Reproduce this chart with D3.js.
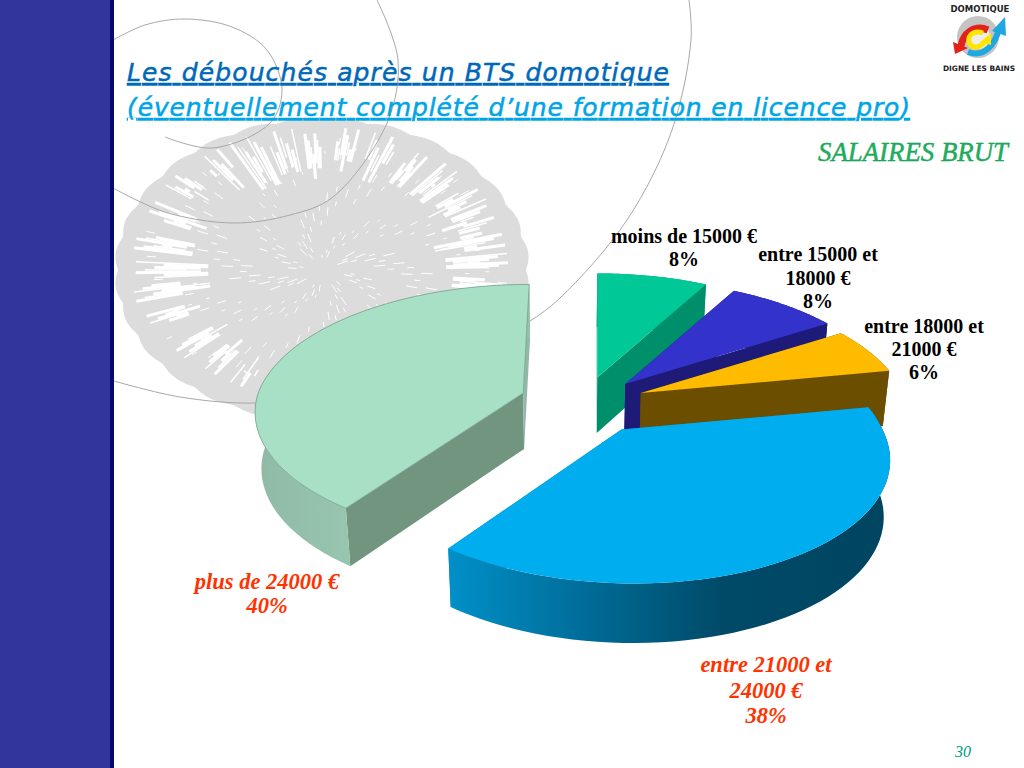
<!DOCTYPE html>
<html>
<head>
<meta charset="utf-8">
<style>
  html, body { margin: 0; padding: 0; background: #fff; overflow: hidden; }
  svg { display: block; }
</style>
<script src="https://cdn.jsdelivr.net/npm/d3@7"></script>
</head>
<body>
<div class="chart"></div>
<script>
// Chart data
var categories = ["moins de 15000 €", "entre 15000 et 18000 €", "entre 18000 et 21000 €", "entre 21000 et 24000 €", "plus de 24000 €"];
var shares = [8, 8, 6, 38, 40];
var shareLabels = ["8%", "8%", "6%", "38%", "40%"];
var labelLines = [
  ["moins de 15000 €"],
  ["entre 15000 et", "18000 €"],
  ["entre 18000 et", "21000 €"],
  ["entre 21000 et", "24000 €"],
  ["plus de 24000 €"]
];

// Layout and styles
var svgWidth = 1024;
var svgHeight = 768;

var explode = [58, 57, 58, 64, 69];
var nudgeX = [-4, 0, 0, -3, 0];
var radiusScale = [1, 1, 0.99, 0.985, 1];
var perspective = [0.2, 0.2, 0.2, 0.2, 0.15];
var topColors = ["#00c896", "#3333cc", "#ffbb00", "#00adef", "#a8e0c6"];
var faceColors = ["#008f6b", "#1e1a78", "#6b4e00", "#0088bf", "#72957f"];
var wallStops = [
  [[0, "#008f6b"], [1, "#008f6b"]],
  [[0, "#1e1a78"], [1, "#1e1a78"]],
  [[0, "#6b4e00"], [1, "#6b4e00"]],
  [[0, "#0090c8"], [0.21, "#0078a8"], [0.43, "#005f85"], [0.62, "#004a68"], [1, "#004560"]],
  [[0, "#8fbba6"], [0.6, "#9fcdb7"], [1, "#96c2ad"]]
];
var labelX = [684, 818, 924, 766, 267];
var labelY = [243, 261, 333, 672, 589];
var labelDy = [23, 23.5, 23, 25.5, 24];
var labelColors = ["#000", "#000", "#000", "#ff3300", "#ff3300"];

// Perspective of the 3D pie
var radius = 265;
var vanishX = 570;
var baseY = 403;
var pieOffsetX = 18;
var squash = 125 / 265;
var wallHeight = 56;

var svg = d3.select(".chart")
  .append("svg")
  .attr("width", svgWidth)
  .attr("height", svgHeight);

var defs = svg.append("defs");

var line = d3.line();

function project(u, v) {
  var s = 1 / (1 + 0.2 / 265 * v);
  return { x: vanishX + u * s, y: baseY - squash * v * s, s: s };
}

// bottom of the wall below a projected point
function drop(p) {
  return [vanishX + (p.x - vanishX) * 0.98, p.y + wallHeight * (1 + 0.25 * (p.s - 1))];
}

// ---------- background decoration ----------
var deco = svg.append("g");

var ammoX = 322, ammoY = 270, ammoRx = 207, ammoRy = 152;

function ammoPoint(angle, r) {
  return [ammoX + Math.sin(angle) * ammoRx * r, ammoY - Math.cos(angle) * ammoRy * r];
}

var outline = d3.range(0, 360, 1).map(function(a) {
  var t = a * Math.PI / 180;
  return ammoPoint(t, 0.985 + 0.018 * Math.abs(Math.sin(t * 14)));
});
deco.append("path")
  .attr("d", d3.line().curve(d3.curveLinearClosed)(outline))
  .attr("fill", "#dcdcdc");

// white streaks of the shell: angle, inner, outer, half width
var streaks = [
  [-128, 0.58, 0.88, 2.5], [-112, 0.6, 0.9, 2], [-100, 0.55, 0.92, 2.5], [-90, 0.55, 0.9, 3],
  [-78, 0.6, 0.92, 2.5], [-64, 0.62, 0.92, 2.5], [-50, 0.68, 0.94, 3], [-36, 0.66, 0.94, 3],
  [-24, 0.6, 0.95, 3.5], [-13, 0.62, 0.94, 3.5], [-3, 0.6, 0.9, 2], [8, 0.62, 0.94, 2.5],
  [20, 0.62, 0.94, 3.5], [32, 0.66, 0.9, 2], [44, 0.62, 0.92, 3], [56, 0.62, 0.92, 3],
  [66, 0.6, 0.9, 3.5], [76, 0.56, 0.9, 3], [86, 0.6, 0.9, 2.5], [97, 0.6, 0.88, 2],
  [-140, 0.6, 0.86, 2.5], [-152, 0.62, 0.86, 2.5], [-164, 0.65, 0.86, 2], [110, 0.62, 0.86, 2]
];
streaks.forEach(function(d, i) {
  d3.range(-3, 4).forEach(function(j) {
    var a = (d[0] + j * d[3] / 2.6) * Math.PI / 180;
    var r0 = d[1] + ((j * j * 3 + i) % 5) * 0.035;
    var r1 = d[2] - ((j + 3 + i * 2) % 4) * 0.045;
    var p0 = ammoPoint(a, r0), p1 = ammoPoint(a, r1);
    deco.append("line")
      .attr("x1", p0[0]).attr("y1", p0[1]).attr("x2", p1[0]).attr("y2", p1[1])
      .attr("stroke", "#fff")
      .attr("stroke-width", (j + i) % 3 === 0 ? 1.5 : 3);
  });
});

// fine specks near the middle
d3.range(0, 260).forEach(function(i) {
  var a = i * 2.39996;
  var r = 0.08 + 0.78 * ((i * 7) % 260) / 260;
  var p0 = ammoPoint(a, r), p1 = ammoPoint(a, r + 0.02 + (i % 4) * 0.012);
  deco.append("line")
    .attr("x1", p0[0]).attr("y1", p0[1]).attr("x2", p1[0]).attr("y2", p1[1])
    .attr("stroke", "#fff").attr("stroke-width", 1);
});

// thin spiral lines
var spiralLines = [
  [[114, 381], [180, 397], [257, 403], [340, 392], [440, 372], [527, 323], [560, 298], [627, 220], [672, 130], [691, 40], [689, 0]],
  [[113, 188], [165, 212], [233, 223], [290, 215], [333, 197], [387, 123], [398, 60], [377, 0]],
  [[113, 40], [145, 25], [185, 19], [232, 27], [267, 50], [282, 90], [270, 123], [213, 148], [165, 137]]
];
spiralLines.forEach(function(pts) {
  deco.append("path")
    .attr("d", d3.line().curve(d3.curveCatmullRom)(pts))
    .attr("fill", "none")
    .attr("stroke", "#a8a8a8")
    .attr("stroke-width", 1);
});

// left band
svg.append("rect").attr("x", 0).attr("y", 0).attr("width", 110).attr("height", svgHeight).attr("fill", "#31359c");
svg.append("rect").attr("x", 110).attr("y", 0).attr("width", 4).attr("height", svgHeight).attr("fill", "#050a6e");

// ---------- logo ----------
var logo = svg.append("g");
logo.append("text").attr("x", 980).attr("y", 12).attr("text-anchor", "middle")
  .attr("font-family", "DejaVu Sans").attr("font-weight", "bold").attr("font-size", 8.5).attr("fill", "#222").text("DOMOTIQUE");
logo.append("text").attr("x", 979).attr("y", 71).attr("text-anchor", "middle")
  .attr("font-family", "DejaVu Sans").attr("font-weight", "bold").attr("font-size", 7.4).attr("fill", "#222").text("DIGNE LES BAINS");
logo.append("circle").attr("cx", 978).attr("cy", 37).attr("r", 21).attr("fill", "#c4c4c4");
logo.append("circle").attr("cx", 978).attr("cy", 37).attr("r", 12).attr("fill", "#eee");
logo.append("path").attr("d", "M968 52 C985 58 995 44 999 29").attr("fill", "none").attr("stroke", "#1ea7e1").attr("stroke-width", 6);
logo.append("path").attr("d", "M992 31 L1005 17 L1006 36 Z").attr("fill", "#1ea7e1");
logo.append("path").attr("d", "M988 30 C974 24 963 34 961 46").attr("fill", "none").attr("stroke", "#e2231a").attr("stroke-width", 7);
logo.append("path").attr("d", "M953 42 L968 48 L955 54 Z").attr("fill", "#e2231a");
logo.append("path").attr("d", "M983 33 C972 29 966 38 970 44 C974 50 982 46 985 41").attr("fill", "none").attr("stroke", "#ffe600").attr("stroke-width", 5);
logo.append("path").attr("d", "M980 42 L991 33 L991 45 Z").attr("fill", "#ffe600");

// ---------- titles ----------
svg.append("text")
  .attr("x", 127).attr("y", 81)
  .attr("textLength", 542).attr("lengthAdjust", "spacing")
  .attr("font-family", "DejaVu Sans").attr("font-style", "oblique").attr("font-size", 25)
  .attr("text-decoration", "underline").attr("fill", "#0068b8")
  .attr("stroke", "#0068b8").attr("stroke-width", 0.5)
  .text("Les débouchés après un BTS domotique");
svg.append("text")
  .attr("x", 127).attr("y", 116)
  .attr("textLength", 783).attr("lengthAdjust", "spacing")
  .attr("font-family", "DejaVu Sans").attr("font-style", "oblique").attr("font-size", 25)
  .attr("text-decoration", "underline").attr("fill", "#00a5e6")
  .attr("stroke", "#00a5e6").attr("stroke-width", 0.5)
  .text("(éventuellement complété d’une formation en licence pro)");
svg.append("text")
  .attr("x", 818).attr("y", 161)
  .attr("textLength", 190).attr("lengthAdjust", "spacingAndGlyphs")
  .attr("font-family", "Liberation Serif").attr("font-style", "italic").attr("font-size", 27)
  .attr("fill", "#1fb060").attr("stroke", "#0a9a4a").attr("stroke-width", 0.4)
  .text("SALAIRES BRUT");

// ---------- pie ----------
var pie = d3.pie().sort(null).value(function(d) { return d; });
var arcs = pie(shares);
var chartGroup = svg.append("g");

arcs.forEach(function(a, i) {
  var mid = (a.startAngle + a.endAngle) / 2;
  var apex = project(pieOffsetX + nudgeX[i] + explode[i] * Math.sin(mid), explode[i] * Math.cos(mid));
  var r = radius * radiusScale[i];

  // a point on the rim, scaled by how far back it sits on the slice
  function rim(t) {
    var s = 1 / (1 + perspective[i] * Math.cos(t));
    return {
      x: apex.x + r * Math.sin(t) * s + Math.max(0, (apex.x - vanishX) * (s - 1)),
      y: apex.y - squash * r * Math.cos(t) * s,
      s: s
    };
  }

  var steps = d3.range(0, 61).map(function(k) {
    return rim(a.startAngle + (a.endAngle - a.startAngle) * k / 60);
  });
  var first = steps[0], last = steps[steps.length - 1];

  var g = chartGroup.append("g");

  // the two flat sides
  [first, last].forEach(function(p) {
    var faceColor = faceColors[i];
    if (i === 4 && p === last) faceColor = "#90b8a5";
    g.append("path")
      .attr("d", line([[apex.x, apex.y], [p.x, p.y], drop(p), drop(apex)]) + "Z")
      .attr("fill", faceColor);
  });

  // curved wall with its horizontal shading
  var xs = steps.map(function(p) { return p.x; });
  var gradId = "wall" + i;
  var grad = defs.append("linearGradient")
    .attr("id", gradId)
    .attr("gradientUnits", "userSpaceOnUse")
    .attr("x1", d3.min(xs)).attr("x2", d3.max(xs)).attr("y1", 0).attr("y2", 0);
  wallStops[i].forEach(function(st) {
    grad.append("stop").attr("offset", st[0]).attr("stop-color", st[1]);
  });
  var wall = steps.map(function(p) { return [p.x, p.y]; })
    .concat(steps.slice().reverse().map(drop));
  g.append("path").attr("d", line(wall) + "Z").attr("fill", "url(#" + gradId + ")");

  // top face
  var top = [[apex.x, apex.y]].concat(steps.map(function(p) { return [p.x, p.y]; }));
  g.append("path")
    .attr("d", line(top) + "Z")
    .attr("fill", topColors[i])
    .attr("stroke", i === 4 ? "#6f9a86" : "none")
    .attr("stroke-width", i === 4 ? 0.7 : 0);
});

// ---------- labels ----------
categories.forEach(function(c, i) {
  var lines = labelLines[i].concat([shareLabels[i]]);
  lines.forEach(function(txt, k) {
    svg.append("text")
      .attr("x", labelX[i])
      .attr("y", labelY[i] + k * labelDy[i])
      .attr("text-anchor", "middle")
      .attr("font-family", "Liberation Serif")
      .attr("font-weight", "bold")
      .attr("font-style", i > 2 ? "italic" : "normal")
      .attr("font-size", i > 2 ? 22.5 : 20)
      .attr("fill", labelColors[i])
      .text(txt);
  });
});

// page number
svg.append("text")
  .attr("x", 963).attr("y", 757).attr("text-anchor", "middle")
  .attr("font-family", "Liberation Serif").attr("font-style", "italic").attr("font-size", 16)
  .attr("fill", "#00a080").text("30");
</script>
</body>
</html>
